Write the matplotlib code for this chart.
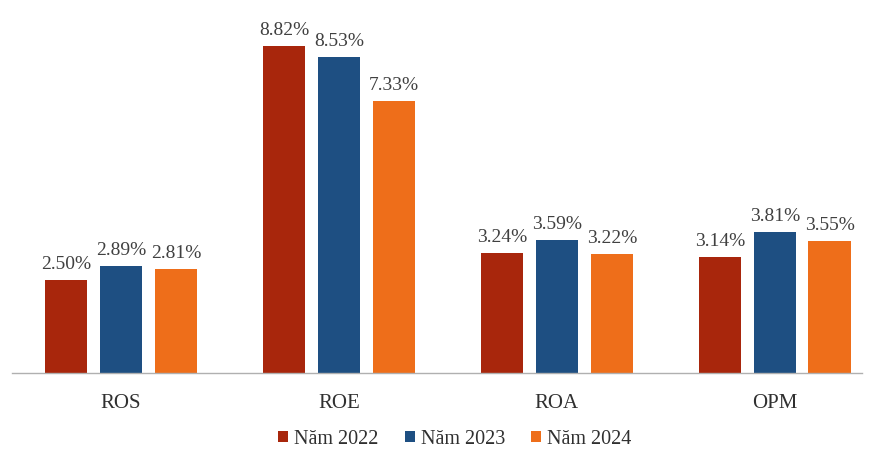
import matplotlib.pyplot as plt
import numpy as np

categories = ["ROS", "ROE", "ROA", "OPM"]
series_names = ["Năm 2022", "Năm 2023", "Năm 2024"]
v2022 = [2.50, 8.82, 3.24, 3.14]
v2023 = [2.89, 8.53, 3.59, 3.81]
v2024 = [2.81, 7.33, 3.22, 3.55]
colors = ["#A8260C", "#1E4F82", "#EE6E1A"]

plt.rcParams['font.family'] = ['Liberation Serif', 'DejaVu Serif']

fig = plt.figure(figsize=(8.71, 4.5), dpi=100)
ax = fig.add_axes([12 / 871, 77 / 450, 850 / 871, 371 / 450])

x = np.arange(len(categories))
width = 0.195
pitch = 0.252
for i, (vals, name) in enumerate(zip([v2022, v2023, v2024], series_names)):
    xs = x + (i - 1) * pitch
    ax.bar(xs, vals, width, color=colors[i], label=name, zorder=2)
    for xi, v in zip(xs, vals):
        ax.annotate(f"{v:.2f}%", (xi, v), xytext=(0, 5), textcoords="offset points",
                    ha="center", va="bottom", fontsize=14, color="#404040")

ax.set_xlim(-0.5, 3.4)
ax.set_ylim(0, 10)
ax.set_yticks([])
ax.set_xticks(x)
ax.set_xticklabels(categories, fontsize=15, color="#303030")
ax.tick_params(axis='x', length=0, pad=15)
for s in ["top", "right", "left"]:
    ax.spines[s].set_visible(False)
ax.spines["bottom"].set_color("#B0B0B0")
ax.spines["bottom"].set_linewidth(1)

fig.legend(loc="center", bbox_to_anchor=(455 / 871, 1 - 439 / 450), ncol=3, frameon=False,
           fontsize=14.5, handlelength=0.5, handleheight=0.5, handletextpad=0.3,
           columnspacing=1.3, labelcolor="#303030")

fig.savefig("out.png", dpi=100)
plt.close(fig)
